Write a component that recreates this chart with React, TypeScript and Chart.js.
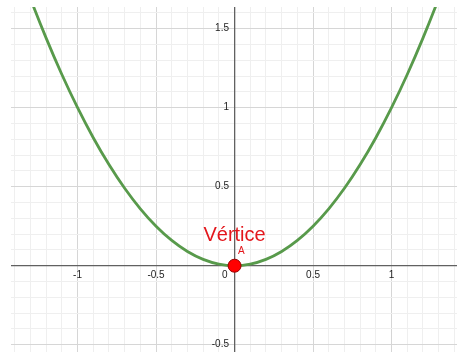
import React, { useEffect, useRef } from 'react';
import { Chart, registerables } from 'chart.js';

Chart.register(...registerables);

// Sampled points of the parabola y = x²
const curveX = [
  -1.4, -1.3, -1.2, -1.1, -1.0, -0.9, -0.8, -0.7, -0.6, -0.5, -0.4, -0.3, -0.2, -0.1,
  0,
  0.1, 0.2, 0.3, 0.4, 0.5, 0.6, 0.7, 0.8, 0.9, 1.0, 1.1, 1.2, 1.3, 1.4,
];
const curveY = [
  1.96, 1.69, 1.44, 1.21, 1.0, 0.81, 0.64, 0.49, 0.36, 0.25, 0.16, 0.09, 0.04, 0.01,
  0,
  0.01, 0.04, 0.09, 0.16, 0.25, 0.36, 0.49, 0.64, 0.81, 1.0, 1.21, 1.44, 1.69, 1.96,
];

// Vertex of the parabola
const vertexX = 0;
const vertexY = 0;
const vertexTitle = 'Vértice';
const vertexName = 'A';

// Visible window of the graphing view
const xMin = -1.424;
const xMax = 1.417;
const yMin = -0.546;
const yMax = 1.637;
const minorStep = 0.1;

const isMajor = (v: number) => Math.round(v * 10) % 5 === 0;
const fmt = (v: number) => String(Math.round(v * 10) / 10);

const FONT_FAMILY = '"Liberation Sans", Arial, sans-serif';

const vertexLabels = {
  id: 'vertexLabels',
  afterDatasetsDraw(chart: any) {
    const { ctx, scales } = chart;
    const px = scales.x.getPixelForValue(vertexX);
    const py = scales.y.getPixelForValue(vertexY);
    ctx.save();
    ctx.fillStyle = '#e3171c';
    ctx.textBaseline = 'alphabetic';
    ctx.font = `20px ${FONT_FAMILY}`;
    ctx.textAlign = 'center';
    ctx.fillText(vertexTitle, px, py - 25);
    ctx.font = `10px ${FONT_FAMILY}`;
    ctx.textAlign = 'left';
    ctx.fillText(vertexName, px + 3.5, py - 12);
    ctx.restore();
  },
};

// Axes sit inside the plot, so they take no room of their own
const collapse = (s: any) => {
  if (s.isHorizontal()) s.height = 0;
  else s.width = 0;
  s.paddingLeft = 0;
  s.paddingRight = 0;
  s.paddingTop = 0;
  s.paddingBottom = 0;
};

export default function App() {
  const canvasRef = useRef<HTMLCanvasElement | null>(null);

  useEffect(() => {
    if (!canvasRef.current) return;
    const gridColor = (c: any) => (c.tick && isMajor(c.tick.value) ? '#d6d6d6' : '#efefef');

    const chart = new Chart(canvasRef.current, {
      type: 'line',
      data: {
        datasets: [
          {
            label: vertexName,
            data: [{ x: vertexX, y: vertexY }],
            showLine: false,
            pointRadius: 6.5,
            pointBackgroundColor: '#ff0000',
            pointBorderColor: '#9a0000',
            pointBorderWidth: 1,
          },
          {
            label: 'f',
            data: curveX.map((x, i) => ({ x, y: curveY[i] })),
            borderColor: '#589a4b',
            borderWidth: 2.8,
            pointRadius: 0,
            fill: false,
            cubicInterpolationMode: 'monotone',
          },
        ],
      },
      options: {
        animation: false,
        responsive: false,
        events: [],
        layout: { padding: 0, autoPadding: false },
        plugins: {
          legend: { display: false },
          tooltip: { enabled: false },
        },
        scales: {
          x: {
            type: 'linear',
            min: xMin,
            max: xMax,
            position: { y: 0 },
            afterFit: collapse,
            grid: { color: gridColor, lineWidth: 1, drawTicks: false },
            border: { display: true, color: '#616161', width: 1.3 },
            ticks: {
              stepSize: minorStep,
              includeBounds: false,
              autoSkip: false,
              maxRotation: 0,
              padding: 4,
              color: '#222',
              font: { family: FONT_FAMILY, size: 10 },
              callback: (v: any) => {
                const n = Number(v);
                if (!isMajor(n)) return '';
                if (Math.abs(n) < 1e-9) return '0       ';
                return fmt(n);
              },
            },
          },
          y: {
            type: 'linear',
            min: yMin,
            max: yMax,
            position: { x: 0 },
            afterFit: collapse,
            grid: { color: gridColor, lineWidth: 1, drawTicks: false },
            border: { display: true, color: '#616161', width: 1.3 },
            ticks: {
              stepSize: minorStep,
              includeBounds: false,
              autoSkip: false,
              padding: 4,
              color: '#222',
              font: { family: FONT_FAMILY, size: 10 },
              callback: (v: any) => {
                const n = Number(v);
                if (!isMajor(n) || Math.abs(n) < 1e-9) return '';
                return fmt(n) + '  ';
              },
            },
          },
        },
      },
      plugins: [vertexLabels],
    } as any);

    return () => chart.destroy();
  }, []);

  return (
    <div style={{ position: 'fixed', left: 11, top: 7, width: 446, height: 345 }}>
      <canvas ref={canvasRef} width={446} height={345} style={{ display: 'block' }} />
    </div>
  );
}
